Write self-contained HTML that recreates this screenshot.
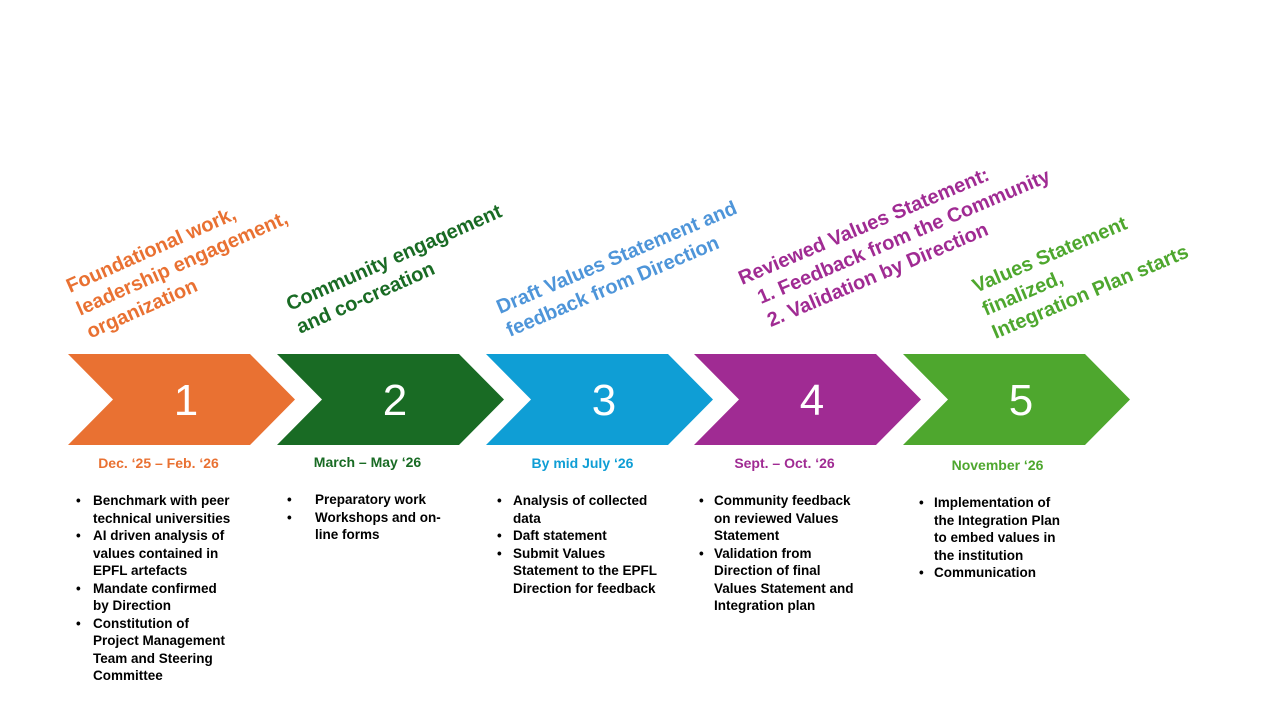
<!DOCTYPE html>
<html><head><meta charset="utf-8"><style>
body{margin:0;width:1280px;height:720px;background:#fff;overflow:hidden;font-family:"Liberation Sans",sans-serif;position:relative}
.col{position:absolute;font-size:13.5px;font-weight:bold;line-height:17.5px;color:#000}
.col div{position:relative}
.col .b{position:absolute}
.d{position:absolute;font-size:14px;font-weight:bold;text-align:center;width:227px}
</style></head><body>
<svg width="1280" height="720" style="position:absolute;left:0;top:0" font-family="Liberation Sans, sans-serif">
<polygon points="68,354 250,354 295,399.5 250,445 68,445 113,399.5" fill="#E97132"/>
<polygon points="277,354 459,354 504,399.5 459,445 277,445 322,399.5" fill="#196B24"/>
<polygon points="486,354 668,354 713,399.5 668,445 486,445 531,399.5" fill="#0F9ED5"/>
<polygon points="694,354 876,354 921,399.5 876,445 694,445 739,399.5" fill="#A02B93"/>
<polygon points="903,354 1085,354 1130,399.5 1085,445 903,445 948,399.5" fill="#4EA72E"/>
<g fill="#fff" font-size="44" text-anchor="middle">
<text x="186" y="415">1</text><text x="395" y="415">2</text><text x="604" y="415">3</text><text x="812" y="415">4</text><text x="1021" y="415">5</text>
</g>
<g font-size="20" font-weight="bold">
<text transform="translate(70,293) rotate(-24)" fill="#E97132"><tspan x="0" y="0">Foundational work,</tspan><tspan x="0" y="25">leadership engagement,</tspan><tspan x="0" y="50">organization</tspan></text>
<text transform="translate(290,311) rotate(-24)" fill="#196B24"><tspan x="0" y="0">Community engagement</tspan><tspan x="0" y="25">and co-creation</tspan></text>
<text transform="translate(500,314) rotate(-23)" fill="#4E95D9"><tspan x="0" y="0">Draft Values Statement and</tspan><tspan x="0" y="25">feedback from Direction</tspan></text>
<text transform="translate(742,285) rotate(-23)" fill="#A02B93"><tspan x="0" y="0">Reviewed Values Statement:</tspan><tspan x="10" y="25">1. Feedback from the Community</tspan><tspan x="10" y="50">2. Validation by Direction</tspan></text>
<text transform="translate(976,293) rotate(-23)" fill="#4EA72E"><tspan x="0" y="0">Values Statement</tspan><tspan x="0" y="25">finalized,</tspan><tspan x="0" y="50">Integration Plan starts</tspan></text>
</g>
</svg>
<div class="d" style="left:45px;top:455px;color:#E97132">Dec. ‘25 – Feb. ‘26</div>
<div class="d" style="left:254px;top:454px;color:#196B24">March – May ‘26</div>
<div class="d" style="left:469px;top:455px;color:#0F9ED5">By mid July ‘26</div>
<div class="d" style="left:671px;top:455px;color:#A02B93">Sept. – Oct. ‘26</div>
<div class="d" style="left:884px;top:457px;color:#4EA72E">November ‘26</div>

<div class="col" style="left:93px;top:492px">
<div><span class="b" style="left:-17px">•</span>Benchmark with peer<br>technical universities</div>
<div><span class="b" style="left:-17px">•</span>AI driven analysis of<br>values contained in<br>EPFL artefacts</div>
<div><span class="b" style="left:-17px">•</span>Mandate confirmed<br>by Direction</div>
<div><span class="b" style="left:-17px">•</span>Constitution of<br>Project Management<br>Team and Steering<br>Committee</div>
</div>
<div class="col" style="left:315px;top:491px">
<div><span class="b" style="left:-28px">•</span>Preparatory work</div>
<div><span class="b" style="left:-28px">•</span>Workshops and on-<br>line forms</div>
</div>
<div class="col" style="left:513px;top:492px">
<div><span class="b" style="left:-16px">•</span>Analysis of collected<br>data</div>
<div><span class="b" style="left:-16px">•</span>Daft statement</div>
<div><span class="b" style="left:-16px">•</span>Submit Values<br>Statement to the EPFL<br>Direction for feedback</div>
</div>
<div class="col" style="left:714px;top:492px">
<div><span class="b" style="left:-15px">•</span>Community feedback<br>on reviewed Values<br>Statement</div>
<div><span class="b" style="left:-15px">•</span>Validation from<br>Direction of final<br>Values Statement and<br>Integration plan</div>
</div>
<div class="col" style="left:934px;top:494px">
<div><span class="b" style="left:-15px">•</span>Implementation of<br>the Integration Plan<br>to embed values in<br>the institution</div>
<div><span class="b" style="left:-15px">•</span>Communication</div>
</div>
</body></html>
